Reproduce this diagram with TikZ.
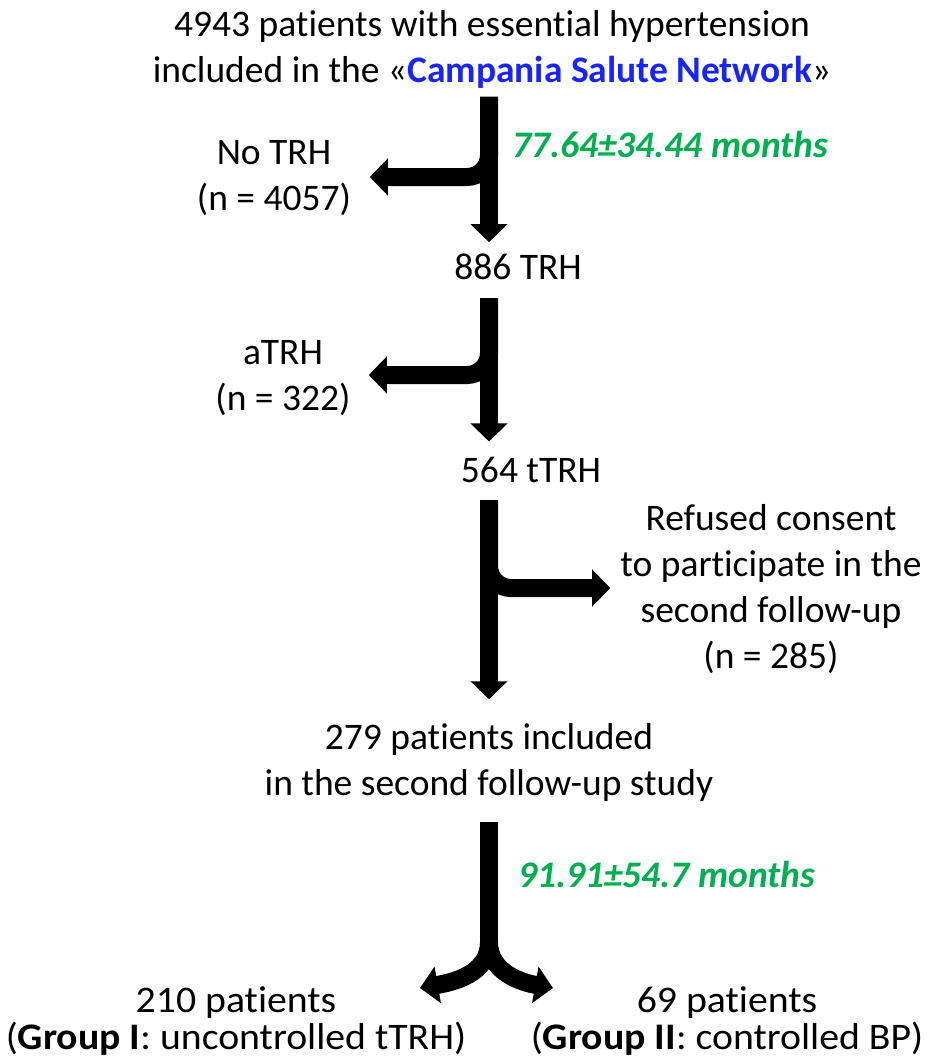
\documentclass[tikz,border=0pt]{standalone}
\usepackage{fontspec}
\setmainfont{Carlito}[Ligatures=NoCommon]
\newfontfamily\widefont{Carlito}[Ligatures=NoCommon, FakeStretch=1.06]
\usetikzlibrary{arrows.meta, positioning}

\definecolor{durgreen}{RGB}{0,176,80}
\definecolor{netblue}{RGB}{24,36,255}

\tikzset{
  txt/.style={inner sep=0pt, align=center, anchor=base, font=\fontsize{37.5}{46}\selectfont},
  grp/.style={txt, font=\widefont\fontsize{37.5}{37}\selectfont},
  dur/.style={inner sep=0pt, anchor=base west, text=durgreen, font=\fontsize{37.5}{46}\selectfont\bfseries\itshape},
  stem/.style={line width=18pt},
  fat/.style={line width=18pt, -{Triangle[width=36pt,length=18pt]}}
}

\begin{document}
\begin{tikzpicture}[x=1pt,y=-1pt]
            \useasboundingbox (0,0) rectangle (931,1061);

            % base anchor = last line of a node
            \node[txt] (start) at (492,82) {4943 patients with essential hypertension\\included in the «\textcolor{netblue}{\textbf{Campania Salute Network}}»};
            \node[txt] (notrh) at (274,210) {No TRH\\(n = 4057)};
            \node[dur] (fu1) at (512,157) {77.64±34.44 months};
            \node[txt] (trh) at (518,279) {886 TRH};
            \node[txt] (atrh) at (283,410) {aTRH\\(n = 322)};
            \node[txt] (ttrh) at (531,482) {564 tTRH};
            \node[txt] (refused) at (771,668) {Refused consent\\to participate in the\\second follow-up\\(n = 285)};
            \node[txt] (incl) at (489,795) {279 patients included\\in the second follow-up study};
            \node[dur] (fu2) at (518,887) {91.91±54.7 months};
            \node[grp] (grp1) at (236,1049) {210 patients\\(\textbf{Group I}: uncontrolled tTRH)};
            \node[grp] (grp2) at (727,1049) {69 patients\\(\textbf{Group II}: controlled BP)};

            \coordinate (k1) at (489,177);
            \coordinate (k2) at (489,375);
            \coordinate (k3) at (489,588);
            \coordinate (k4) at (489,942);
            \coordinate (e1) at (420,988);
            \coordinate (e2) at (553,988);

            % Draw arrows
            \draw[fat, shorten <=8.5pt, shorten >=11pt] (start.south -| k1) -- (trh.north -| k1);
            \draw[fat, rounded corners=22pt, shorten <=8.5pt, shorten >=18.5pt] (start.south -| k1) -- (k1) -- (notrh.east |- k1);
            \draw[fat, shorten <=19pt, shorten >=15pt] (trh.south -| k2) -- (ttrh.north -| k2);
            \draw[fat, rounded corners=22pt, shorten <=19pt, shorten >=18pt] (trh.south -| k2) -- (k2) -- (atrh.east |- k2);
            \draw[fat, shorten <=18pt, shorten >=23.5pt] (ttrh.south -| k3) -- (incl.north -| k3);
            \draw[fat, rounded corners=22pt, shorten <=18pt, shorten >=10pt] (ttrh.south -| k3) -- (k3) -- (refused.west |- k3);
            \draw[stem, shorten <=21pt] (incl.south -| k4) -- (k4);
            \draw[fat] (k4) to[out=-90, in=10] (e1);
            \draw[fat] (k4) to[out=-90, in=170] (e2);
        \end{tikzpicture}
\end{document}
